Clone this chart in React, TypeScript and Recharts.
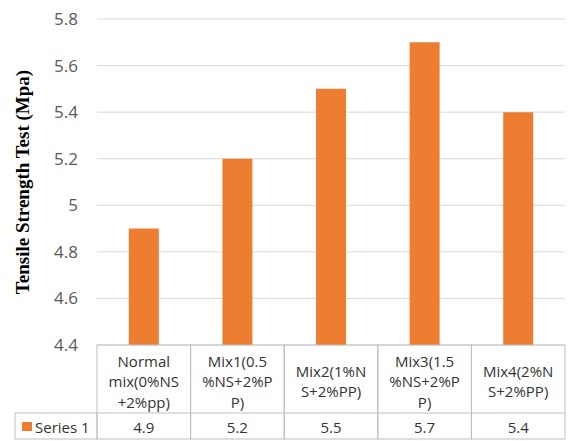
import React from 'react';
import { BarChart, Bar, XAxis, YAxis, CartesianGrid } from 'recharts';

// --- Data ---
const mixLabels: string[][] = [
    ['Normal', 'mix(0%NS', '+2%pp)'],
    ['Mix1(0.5', '%NS+2%P', 'P)'],
    ['Mix2(1%N', 'S+2%PP)'],
    ['Mix3(1.5', '%NS+2%P', 'P)'],
    ['Mix4(2%N', 'S+2%PP)'],
];
const mixNames = ['Normal mix', 'Mix1', 'Mix2', 'Mix3', 'Mix4'];
const series1 = [4.9, 5.2, 5.5, 5.7, 5.4];
const yTicks = [4.4, 4.6, 4.8, 5, 5.2, 5.4, 5.6, 5.8];
const seriesName = 'Series 1';

const chartData = mixNames.map((name, i) => ({ name, idx: i, value: series1[i] }));

// --- Layout ---
const W = 569;
const H = 441;
const PLOT_LEFT = 97;
const PLOT_RIGHT = 4;
const PLOT_TOP = 19;
const HEADER_H = 68;
const ROW_H = 26;
const ORANGE = '#ED7D31';
const BORDER = '#BFBFBF';
const TEXT = '#333333';
const CELL_FONT = '"Open Sans", "DejaVu Sans", sans-serif';

const bandW = (W - PLOT_LEFT - PLOT_RIGHT) / mixNames.length;

// Data-table cell under each category: header label + value row
const TableTick = (props: any) => {
    const { x, y, payload, index } = props;
    const i = typeof index === 'number' ? index : mixNames.indexOf(payload.value);
    const lines = mixLabels[i];
    const left = x - bandW / 2;
    const midY = y + HEADER_H / 2 + 2;
    const lh = 20.5;
    const startY = midY - ((lines.length - 1) * lh) / 2;
    const rowMid = y + HEADER_H + ROW_H / 2 + 1;
    return (
        <g>
            <rect x={left} y={y} width={bandW} height={HEADER_H + ROW_H} fill="none" stroke={BORDER} />
            <line x1={left} x2={left + bandW} y1={y + HEADER_H} y2={y + HEADER_H} stroke={BORDER} />
            {lines.map((ln, k) => (
                <text key={k} x={x} y={startY + k * lh} textAnchor="middle" dominantBaseline="central"
                    fontSize={15} fontFamily={CELL_FONT} fill={TEXT}>{ln}</text>
            ))}
            <text x={x} y={rowMid} textAnchor="middle" dominantBaseline="central"
                fontSize={15} fontFamily={CELL_FONT} fill={TEXT}>{series1[i]}</text>
            {i === 0 && (
                <g>
                    <rect x={15} y={y + HEADER_H} width={left - 15} height={ROW_H} fill="none" stroke={BORDER} />
                    <rect x={22} y={y + HEADER_H + 9} width={10} height={9} fill={ORANGE} />
                    <text x={35} y={rowMid} dominantBaseline="central"
                        fontSize={15} fontFamily={CELL_FONT} fill={TEXT}>{seriesName}</text>
                </g>
            )}
        </g>
    );
};

const App: React.FC = () => {
    return (
        <div style={{ position: 'absolute', left: 0, top: 0, width: W, height: H, background: '#fff' }}>
            <BarChart
                width={W}
                height={H}
                data={chartData}
                margin={{ top: PLOT_TOP, right: PLOT_RIGHT, left: 0, bottom: 0 }}
                barCategoryGap="34%"
            >
                <CartesianGrid vertical={false} stroke="#D9D9D9" />
                <XAxis
                    dataKey="name"
                    axisLine={false}
                    tickLine={false}
                    tickSize={0}
                    tickMargin={0}
                    height={H - 345}
                    interval={0}
                    tick={<TableTick />}
                />
                <YAxis
                    width={PLOT_LEFT}
                    domain={[4.4, 5.8]}
                    ticks={yTicks}
                    axisLine={false}
                    tickLine={false}
                    tickSize={0}
                    tickMargin={19}
                    tick={{ fill: '#595959', fontSize: 17, fontFamily: CELL_FONT }}
                    label={{
                        value: 'Tensile Strength Test (Mpa)',
                        angle: -90,
                        position: 'insideLeft',
                        dx: 17,
                        dy: 0,
                        style: {
                            textAnchor: 'middle',
                            fontFamily: '"Liberation Serif", "Times New Roman", serif',
                            fontWeight: 'bold',
                            fontSize: 19,
                            fill: '#000',
                        },
                    }}
                />
                <Bar dataKey="value" fill={ORANGE} isAnimationActive={false} />
            </BarChart>
        </div>
    );
};

export default App;
